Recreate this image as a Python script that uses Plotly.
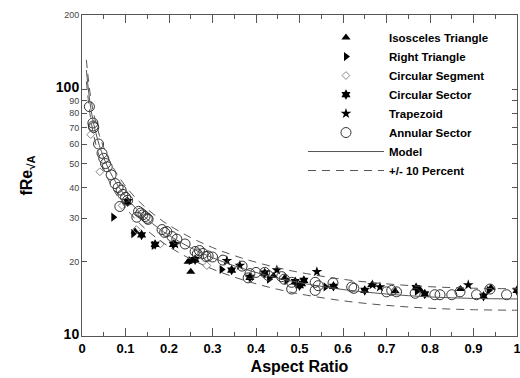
import plotly.graph_objects as go

# ---- data ----
model_x = [0.01, 0.02, 0.03, 0.04, 0.05, 0.06, 0.07, 0.08, 0.1, 0.125, 0.15, 0.175, 0.2, 0.25,
           0.3, 0.35, 0.4, 0.45, 0.5, 0.6, 0.7, 0.8, 0.9, 1.0]
model_y = [119.6, 84.25, 68.55, 59.18, 52.77, 48.02, 44.34, 41.36, 36.81, 32.74, 29.74, 27.42,
           25.57, 22.77, 20.76, 19.25, 18.09, 17.18, 16.46, 15.43, 14.79, 14.40, 14.20, 14.13]
upper_y = [131.6, 92.68, 75.41, 65.10, 58.05, 52.82, 48.77, 45.50, 40.49, 36.01, 32.71, 30.16,
           28.13, 25.05, 22.84, 21.18, 19.90, 18.90, 18.11, 16.97, 16.27, 15.84, 15.62, 15.54]
lower_y = [107.6, 75.83, 61.70, 53.26, 47.49, 43.22, 39.91, 37.22, 33.13, 29.47, 26.77, 24.68,
           23.01, 20.49, 18.68, 17.33, 16.28, 15.46, 14.81, 13.89, 13.31, 12.96, 12.78, 12.72]

iso_x = [0.122, 0.244, 0.25, 0.255, 0.44, 0.466, 0.505, 0.58, 0.666, 0.72, 0.777, 0.87, 0.94]
iso_y = [26.5, 20.0, 18.2, 20.2, 17.5, 17.2, 16.2, 15.8, 16.1, 15.2, 15.4, 15.5, 15.7]

right_x = [0.072, 0.118, 0.165, 0.25, 0.321, 0.43, 0.47, 0.56, 0.77, 0.935]
right_y = [30.3, 26.0, 23.3, 20.2, 18.6, 17.0, 16.8, 15.8, 15.2, 15.3]

seg_x = [0.02, 0.041, 0.092, 0.125, 0.18, 0.287]
seg_y = [65.5, 46.3, 33.8, 27.0, 23.6, 19.3]

sector_x = [0.105, 0.137, 0.168, 0.21, 0.26, 0.344, 0.386, 0.42, 0.49, 0.5, 0.51, 0.578,
            0.65, 0.768, 0.788, 0.923, 1.0]
sector_y = [35.0, 25.7, 23.5, 23.5, 20.4, 18.5, 17.3, 18.0, 16.6, 16.0, 16.8, 15.9,
            15.3, 15.7, 14.8, 14.5, 15.3]

trap_x = [0.214, 0.333, 0.363, 0.448, 0.54, 0.668, 0.685, 0.888]
trap_y = [23.6, 20.2, 19.3, 18.5, 18.2, 16.1, 15.8, 16.1]

ann_x = [0.017, 0.025, 0.026, 0.027, 0.038, 0.046, 0.05, 0.054, 0.058, 0.067, 0.076, 0.083,
         0.087, 0.09, 0.094, 0.1, 0.105, 0.126, 0.13, 0.135, 0.14, 0.145, 0.15, 0.152, 0.184,
         0.19, 0.195, 0.207, 0.218, 0.237, 0.26, 0.265, 0.27, 0.278, 0.285, 0.29, 0.30, 0.324,
         0.368, 0.382, 0.386, 0.40, 0.42, 0.428, 0.459, 0.465, 0.482, 0.482, 0.536, 0.536,
         0.543, 0.577, 0.62, 0.625, 0.70, 0.712, 0.723, 0.766, 0.811, 0.823, 0.85, 0.869,
         0.907, 0.938, 0.976]
ann_y = [85, 73, 71, 70, 60, 55, 52.5, 50, 48.5, 45, 41.5, 40,
         33.5, 39, 37.5, 36.5, 35.5, 30.3, 32, 31.5, 31, 30.5, 30, 29.7, 27,
         26.3, 26.5, 25.3, 24.7, 23.6, 22, 21.5, 22.2, 21.6, 21, 21.1, 20.9, 20.3,
         19.2, 17.2, 17.9, 18.1, 18.1, 17.6, 17.4, 17, 16.5, 15.5, 16.5, 15.3,
         16, 16.4, 15.8, 15.6, 15.1, 15.3, 15.1, 14.9, 14.7, 14.7, 14.7, 15.1,
         14.7, 15.5, 14.7]

x_ticks = [0, 0.1, 0.2, 0.3, 0.4, 0.5, 0.6, 0.7, 0.8, 0.9, 1]
x_labels = ["0", "0.1", "0.2", "0.3", "0.4", "0.5", "0.6", "0.7", "0.8", "0.9", "1"]
y_ticks = [10, 20, 30, 40, 50, 60, 70, 80, 90, 100, 200]
y_labels = ["<b><span style='font-size:14px;color:black'>10</span></b>", "20", "30", "40",
            "50", "60", "70", "80", "90",
            "<b><span style='font-size:14px;color:black'>100</span></b>", "200"]

FONT = "Liberation Sans, Arial, sans-serif"
fig = go.Figure()

def pts(x, y, name, symbol, size, color="black", lw=0, lc="black"):
    fig.add_trace(go.Scatter(x=x, y=y, mode="markers", name=name,
                             marker=dict(symbol=symbol, size=size, color=color,
                                         line=dict(width=lw, color=lc))))

pts(iso_x, iso_y, "Isosceles Triangle", "triangle-up", 8)
pts(right_x, right_y, "Right Triangle", "triangle-right", 8)
pts(seg_x, seg_y, "Circular Segment", "diamond-open", 6, color="#888888", lw=1, lc="#888888")
pts(sector_x, sector_y, "Circular Sector", "hexagram", 8)
pts(trap_x, trap_y, "Trapezoid", "star", 8)
pts(ann_x, ann_y, "Annular Sector", "circle-open", 10, color="#333333", lw=1, lc="#333333")

fig.add_trace(go.Scatter(x=model_x, y=model_y, mode="lines", name="Model",
                         line=dict(color="#555555", width=1, shape="spline")))
fig.add_trace(go.Scatter(x=model_x, y=upper_y, mode="lines", name="+/- 10 Percent",
                         line=dict(color="#555555", width=1, dash="8px,6px", shape="spline")))
fig.add_trace(go.Scatter(x=model_x, y=lower_y, mode="lines", name="+/- 10 Percent",
                         showlegend=False,
                         line=dict(color="#555555", width=1, dash="8px,6px", shape="spline")))

fig.update_layout(
    width=520, height=378,
    margin=dict(l=82, r=3, t=15, b=42),
    paper_bgcolor="white", plot_bgcolor="white",
    font=dict(family=FONT, color="black"),
    showlegend=True,
    legend=dict(x=0.508, y=0.975, xanchor="left", yanchor="top",
                bgcolor="rgba(0,0,0,0)", itemwidth=76, tracegroupgap=0,
                font=dict(size=11.5, family=FONT, color="black", weight="bold")),
    xaxis=dict(range=[0, 1], tickvals=x_ticks, ticktext=x_labels, automargin=False,
               ticklabeloverflow="allow",
               ticks="inside", ticklen=8, tickcolor="#555555",
               minor=dict(dtick=0.05, ticks="inside", ticklen=4, tickcolor="#555555"),
               showline=True, linecolor="#555555", linewidth=1, mirror="allticks",
               showgrid=False, zeroline=False,
               tickfont=dict(size=13, family=FONT, color="black", weight="bold"),
               title=dict(text="<b>Aspect Ratio</b>", standoff=6,
                          font=dict(size=16, family=FONT, color="black"))),
    yaxis=dict(type="log", range=[1, 2.30103], tickvals=y_ticks, ticktext=y_labels,
               automargin=False,
               ticks="inside", ticklen=5, tickcolor="#555555",
               showline=True, linecolor="#555555", linewidth=1, mirror="allticks",
               showgrid=False, zeroline=False,
               tickfont=dict(size=9, family=FONT, color="#444444"),
               title=dict(text="<b>fRe<sub>√A</sub></b>", standoff=19,
                          font=dict(size=16, family=FONT, color="black"))),
)

# remove the default 8px page margin so the 520x378 figure fills the window exactly
fig.write_html("out.html", config={"displayModeBar": False},
               post_script="document.body.style.margin='0';"
                           "document.body.style.overflow='hidden';")
